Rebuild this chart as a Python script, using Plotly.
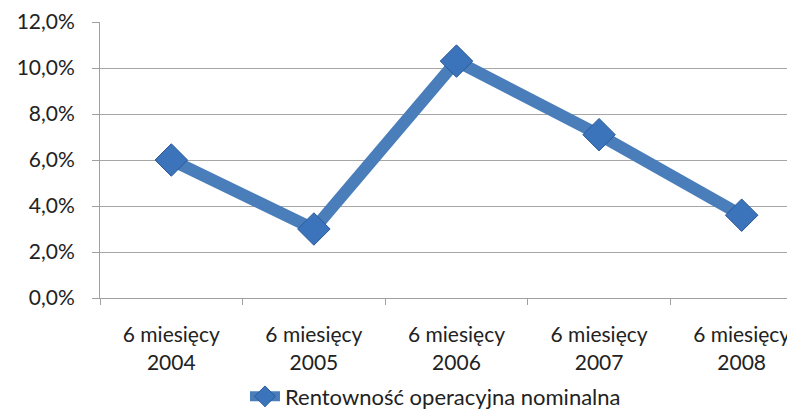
import plotly.graph_objects as go

categories = ["6 miesięcy<br>2004", "6 miesięcy<br>2005", "6 miesięcy<br>2006",
              "6 miesięcy<br>2007", "6 miesięcy<br>2008"]
values = [0.060, 0.030, 0.103, 0.071, 0.036]
series_name = "Rentowność operacyjna nominalna"
y_ticks = [0, 0.02, 0.04, 0.06, 0.08, 0.10, 0.12]

# The page body adds an 8px offset; size the figure to fill the rest of the window.
W, H = 787, 403
L, R, T, B = 92, 0, 14, 113

fig = go.Figure()
fig.add_trace(go.Scatter(
    x=categories, y=values, name=series_name, mode="lines+markers",
    line=dict(color="#4A7EBB", width=12),
    marker=dict(symbol="diamond", size=25, color="#3C74BC",
                line=dict(color="#2A5A98", width=1)),
))

fig.update_layout(
    width=W, height=H,
    margin=dict(l=L, r=R, t=T, b=B, autoexpand=False),
    paper_bgcolor="white", plot_bgcolor="white",
    separators=", ",
    font=dict(family="Lato", size=21, color="#222222"),
    showlegend=True,
    legend=dict(orientation="h", x=0.2086, xanchor="left", y=-0.357, yanchor="middle",
                font=dict(family="Lato", size=22, color="#222222"),
                bgcolor="rgba(0,0,0,0)"),
    xaxis=dict(type="category", range=[-0.5, 4.374], showgrid=False,
               showline=True, linecolor="#A0A0A0", linewidth=1,
               ticks="outside", tickson="boundaries", ticklen=6, tickcolor="#A0A0A0",
               ticklabelstandoff=18, automargin=False,
               tickfont=dict(family="Lato", size=21, color="#222222")),
    yaxis=dict(range=[0, 0.12], tickvals=y_ticks, tickformat=".1%",
               showgrid=True, gridcolor="#A6A6A6", gridwidth=1,
               showline=True, linecolor="#A0A0A0", linewidth=1,
               ticks="outside", ticklen=7, tickcolor="#A0A0A0",
               ticklabelstandoff=13, zeroline=False, automargin=False,
               tickfont=dict(family="Lato", size=21, color="#222222")),
)

fig.write_html("out.html")
